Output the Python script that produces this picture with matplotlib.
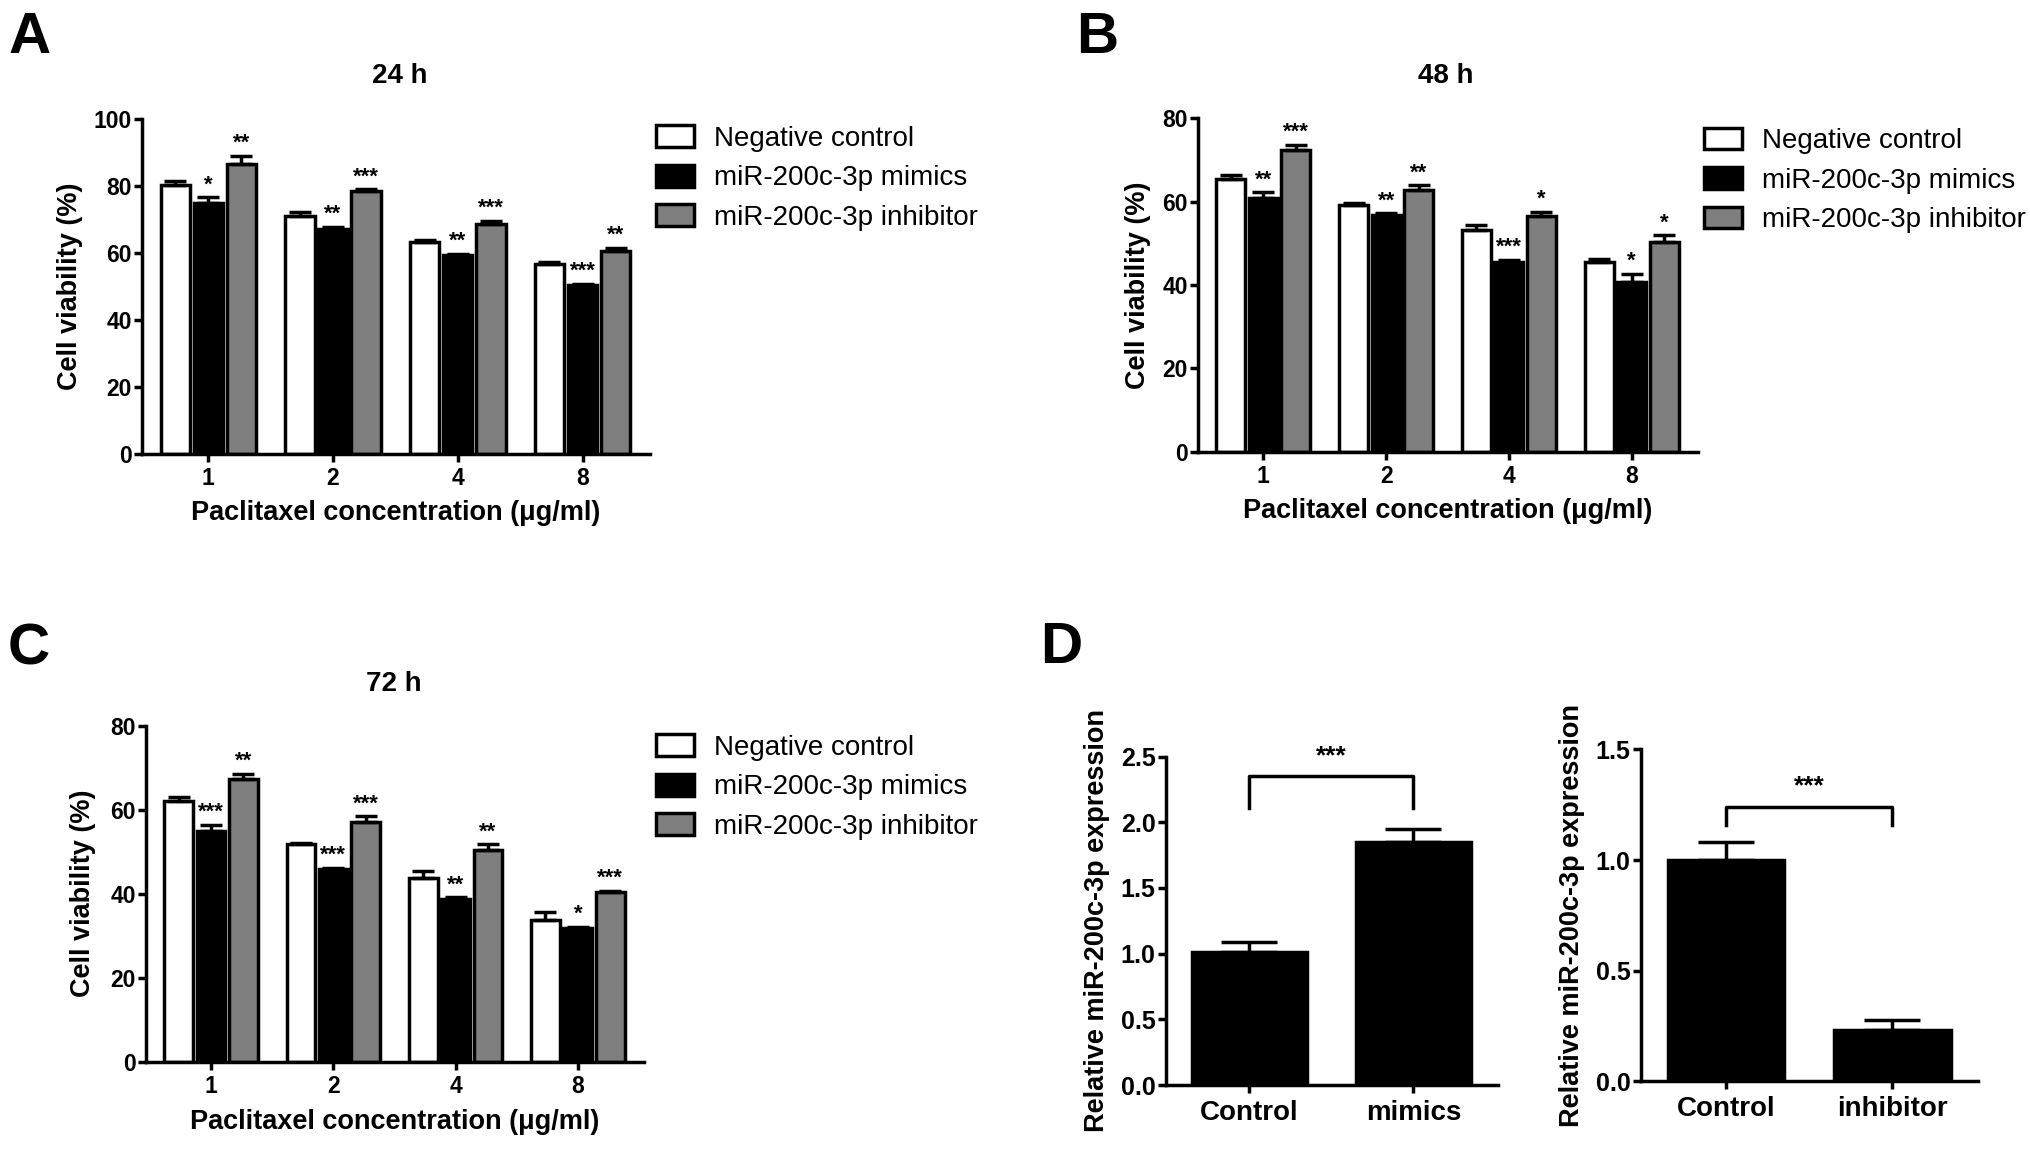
import matplotlib
matplotlib.use('Agg')
import matplotlib.pyplot as plt
from matplotlib.patches import Rectangle
from matplotlib.ticker import FormatStrFormatter
import numpy as np

plt.rcParams['font.family'] = ['Liberation Sans', 'DejaVu Sans']
plt.rcParams['font.weight'] = 'bold'
plt.rcParams['axes.linewidth'] = 2.5

concs = ['1', '2', '4', '8']
groups = ['Negative control', 'miR-200c-3p mimics', 'miR-200c-3p inhibitor']
colors = ['white', 'black', '#7f7f7f']

# viability (%) per time point: rows = groups, cols = concentrations
via_24 = [[80.3, 71.0, 63.3, 56.9],
          [75.1, 67.3, 59.4, 50.4],
          [86.6, 78.5, 68.7, 60.6]]
err_24 = [[1.3, 1.4, 0.7, 0.4],
          [1.6, 0.5, 0.5, 0.5],
          [2.4, 0.6, 0.9, 0.9]]
stars_24 = [['', '', '', ''],
            ['*', '**', '**', '***'],
            ['**', '***', '***', '**']]

via_48 = [[65.5, 59.2, 53.2, 45.4],
          [60.9, 56.8, 45.6, 40.7],
          [72.3, 62.9, 56.6, 50.2]]
err_48 = [[0.8, 0.4, 1.3, 0.9],
          [1.3, 0.4, 0.5, 2.0],
          [1.3, 1.0, 1.0, 1.7]]
stars_48 = [['', '', '', ''],
            ['**', '**', '***', '*'],
            ['***', '**', '*', '*']]

via_72 = [[62.1, 51.7, 43.7, 33.8],
          [55.0, 45.8, 38.7, 31.8],
          [67.2, 57.1, 50.4, 40.4]]
err_72 = [[0.8, 0.4, 1.7, 1.8],
          [1.3, 0.4, 0.4, 0.3],
          [1.3, 1.3, 1.3, 0.3]]
stars_72 = [['', '', '', ''],
            ['***', '***', '**', '*'],
            ['**', '***', '**', '***']]

expr_mim_labels = ['Control', 'mimics']
expr_mim = [1.01, 1.85]
expr_mim_err = [0.08, 0.10]
expr_inh_labels = ['Control', 'inhibitor']
expr_inh = [1.00, 0.23]
expr_inh_err = [0.08, 0.045]

W, H = 2031, 1149
fig = plt.figure(figsize=(W / 100, H / 100), dpi=100)
LW = 2.5


def style_axes(ax, size):
    for s in ['top', 'right']:
        ax.spines[s].set_visible(False)
    ax.tick_params(width=LW, length=6, labelsize=size)
    ax.tick_params(axis='y', pad=1.5)
    ax.tick_params(axis='x', pad=3.5)
    for lab in ax.get_xticklabels() + ax.get_yticklabels():
        lab.set_fontweight('bold')


def viability_panel(rect, vals, errs, stars, ymax, title, title_xy, letter, letter_xy,
                    leg_xy, ylab_x, xlab_y):
    ax = fig.add_axes(rect)
    x = np.arange(len(concs))
    w = 0.235
    off = 0.265
    for i, g in enumerate(groups):
        xs = x + (i - 1) * off
        ax.bar(xs, vals[i], width=w, color=colors[i], edgecolor='black', linewidth=LW, zorder=2)
        ax.errorbar(xs, vals[i], yerr=[np.zeros(len(concs)), errs[i]], fmt='none',
                    ecolor='black', elinewidth=LW, capsize=8, capthick=LW, zorder=3)
        for xx, v, e, s in zip(xs, vals[i], errs[i], stars[i]):
            if s:
                ax.annotate(s, (xx, v + e), xytext=(0, 1.5), textcoords='offset points',
                            ha='center', va='bottom', fontsize=16, fontweight='bold')
    ax.set_xlim(-0.53, 3.54)
    ax.set_ylim(0, ymax)
    ax.set_yticks(np.arange(0, ymax + 1, 20))
    ax.set_xticks(x)
    ax.set_xticklabels(concs)
    ax.set_xlabel('Paclitaxel concentration (\u03bcg/ml)', fontsize=19.5, fontweight='bold')
    ax.set_ylabel('Cell viability (%)', fontsize=19.5, fontweight='bold')
    ax.yaxis.set_label_coords(ylab_x, 0.5)
    ax.xaxis.set_label_coords(0.5, xlab_y)
    style_axes(ax, 16.5)
    fig.text(title_xy[0], title_xy[1], title, ha='center', va='baseline', fontsize=20, fontweight='bold')
    fig.text(letter_xy[0], letter_xy[1], letter, ha='left', va='baseline', fontsize=42, fontweight='bold')
    handles = [Rectangle((0, 0), 1, 1, facecolor=c, edgecolor='black', linewidth=LW) for c in colors]
    leg = ax.legend(handles, groups, loc='upper left', bbox_to_anchor=leg_xy,
                    bbox_transform=fig.transFigure, frameon=False, fontsize=20,
                    handlelength=1.37, handleheight=0.83, handletextpad=0.72,
                    labelspacing=0.47, borderpad=0, borderaxespad=0)
    for t in leg.get_texts():
        t.set_fontweight('normal')
    return ax


viability_panel([0.070, 0.605, 0.250, 0.291], via_24, err_24, stars_24, 100, '24 h', (0.197, 0.9275),
                'A', (0.004, 0.9539), (0.323, 0.891), -0.116, -0.138)
viability_panel([0.590, 0.607, 0.246, 0.290], via_48, err_48, stars_48, 80, '48 h', (0.712, 0.9278),
                'B', (0.530, 0.9539), (0.839, 0.889), -0.094, -0.14)
viability_panel([0.072, 0.076, 0.245, 0.2925], via_72, err_72, stars_72, 80, '72 h', (0.194, 0.3986),
                'C', (0.004, 0.4213), (0.323, 0.361), -0.100, -0.14)


def expr_panel(rect, labels, vals, errs, ymax, br_y, br_low, ylab_x):
    ax = fig.add_axes(rect)
    x = np.arange(len(labels))
    ax.bar(x, vals, width=0.70, color='black', edgecolor='black', linewidth=LW, zorder=2)
    ax.errorbar(x, vals, yerr=[np.zeros(len(vals)), errs], fmt='none', ecolor='black',
                elinewidth=LW, capsize=20, capthick=LW, zorder=3)
    ax.plot([0, 0, 1, 1], [br_low, br_y, br_y, br_low], color='black', lw=LW, clip_on=False)
    ax.annotate('***', (0.5, br_y), xytext=(0, 6), textcoords='offset points',
                ha='center', va='bottom', fontsize=19, fontweight='bold')
    ax.set_xlim(-0.51, 1.515)
    ax.set_ylim(0, ymax)
    ax.set_yticks(np.arange(0, ymax + 0.01, 0.5))
    ax.yaxis.set_major_formatter(FormatStrFormatter('%.1f'))
    ax.set_xticks(x)
    ax.set_xticklabels(labels)
    ax.set_ylabel('Relative miR-200c-3p expression', fontsize=19.5, fontweight='bold')
    ax.yaxis.set_label_coords(ylab_x, 0.5)
    style_axes(ax, 18)
    ax.tick_params(axis='x', labelsize=20, pad=4.5)
    for lab in ax.get_xticklabels() + ax.get_yticklabels():
        lab.set_fontweight('bold')
    return ax


expr_panel([0.574, 0.0557, 0.1635, 0.2858], expr_mim_labels, expr_mim, expr_mim_err, 2.5, 2.35, 2.11, -0.169)
expr_panel([0.808, 0.059, 0.166, 0.2887], expr_inh_labels, expr_inh, expr_inh_err, 1.5, 1.24, 1.16, -0.166)
fig.text(0.512, 0.423, 'D', ha='left', va='baseline', fontsize=42, fontweight='bold')

fig.savefig('out.png', dpi=100)
